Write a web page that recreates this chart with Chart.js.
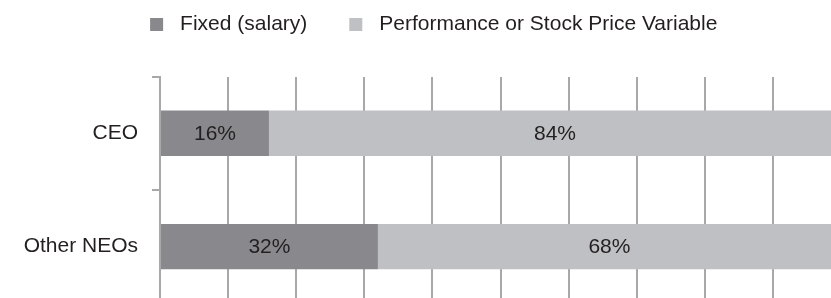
<!DOCTYPE html>
<html>
<head>
<meta charset="utf-8">
<script src="https://cdn.jsdelivr.net/npm/chart.js@4.4.1/dist/chart.umd.min.js"></script>
<style>
html, body { margin: 0; padding: 0; overflow: hidden; background: #fff; }
canvas { display: block; }
</style>
</head>
<body>
<canvas id="pay-chart" width="861" height="330"></canvas>
<script>
const categories = ["CEO", "Other NEOs"];
const fixedPay = [16, 32];
const variablePay = [84, 68];
const seriesNames = ["Fixed (salary)", "Performance or Stock Price Variable"];
const seriesColors = ["#89898d", "#bfc0c3"];

const textColor = "#231f20";
const lineColor = "#a8a8a8";
const font = { family: '"Liberation Sans", Arial, sans-serif', size: 21 };

// percent labels in the middle of each bar piece
const barLabels = {
    id: "barLabels",
    afterDatasetsDraw(chart) {
        let ctx = chart.ctx;
        ctx.save();
        ctx.font = '21px "Liberation Sans", Arial, sans-serif';
        ctx.fillStyle = textColor;
        ctx.textAlign = "center";
        ctx.textBaseline = "middle";
        chart.data.datasets.forEach((ds, i) => {
            chart.getDatasetMeta(i).data.forEach((bar, j) => {
                let p = bar.getProps(["x", "y", "base"], true);
                ctx.fillText(ds.data[j] + "%", (p.x + p.base) / 2, p.y + 1);
            });
        });
        ctx.restore();
    }
};

const chart = new Chart(document.getElementById("pay-chart"), {
    type: "bar",
    data: {
        labels: categories,
        datasets: [
            { label: seriesNames[0], data: fixedPay, backgroundColor: seriesColors[0] },
            { label: seriesNames[1], data: variablePay, backgroundColor: seriesColors[1] }
        ]
    },
    options: {
        indexAxis: "y",
        responsive: false,
        animation: false,
        barPercentage: 0.4,
        categoryPercentage: 1,
        layout: { padding: { top: -24, left: 20, right: 20, bottom: 0 } },
        scales: {
            x: {
                position: "top",
                stacked: true,
                min: 0,
                max: 100,
                ticks: { display: false, stepSize: 10 },
                grid: { color: lineColor, lineWidth: 2, drawTicks: false },
                border: { display: false },
                afterFit: s => { s.height = 29; }
            },
            y: {
                stacked: true,
                ticks: { color: textColor, font: font, padding: 14 },
                grid: { color: lineColor, lineWidth: 2, drawOnChartArea: false, tickLength: 8 },
                border: { color: lineColor, width: 2 },
                afterFit: s => { s.width = 140; }
            }
        },
        plugins: {
            legend: {
                labels: {
                    color: textColor,
                    font: font,
                    boxWidth: 26,
                    boxHeight: 26,
                    padding: 35.5,
                    // white outline trims the swatch to 13px and widens the gap to the text
                    generateLabels: c => Chart.defaults.plugins.legend.labels.generateLabels(c)
                        .map(l => Object.assign(l, { lineWidth: 13, strokeStyle: "#fff" }))
                }
            },
            tooltip: { enabled: false }
        }
    },
    plugins: [barLabels]
});
</script>
</body>
</html>
